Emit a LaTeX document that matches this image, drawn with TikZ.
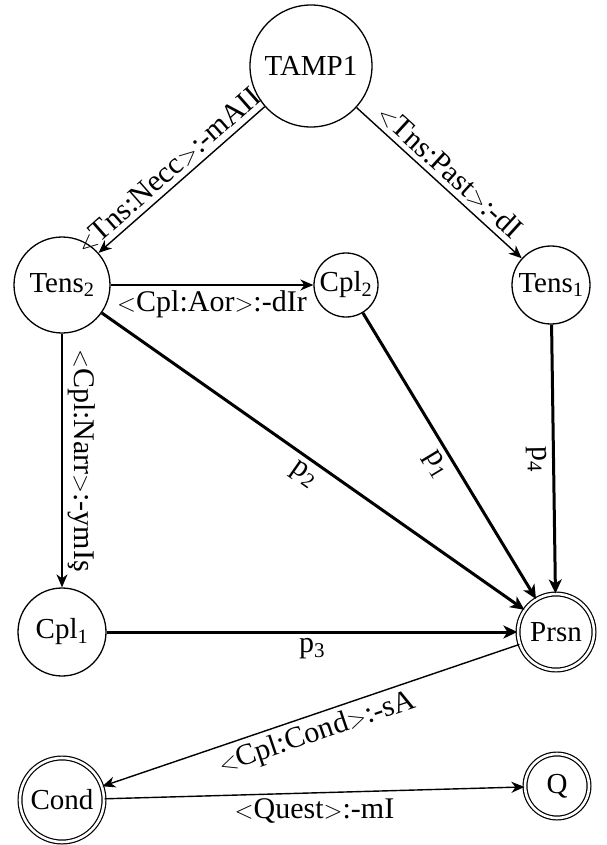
\documentclass[tikz,border=0pt]{standalone}
\usepackage{fontspec}
\setmainfont{Liberation Serif}
\usetikzlibrary{arrows.meta}
\begin{document}
\begin{tikzpicture}[x=1pt,y=-1pt,
  font=\fontsize{30}{35}\selectfont,
  st/.style={draw, circle, line width=1.3pt, inner sep=0pt, font=\fontsize{29}{34}\selectfont},
  acc/.style={st, double, double distance=2.6pt, line width=1.2pt},
  thin/.style={line width=1.4pt, -{Stealth[length=13pt,width=11pt,inset=4pt]}},
  thick/.style={line width=3pt, -{Stealth[length=14pt,width=13pt,inset=4pt]}},
  lab/.style={inner sep=5pt}]
\useasboundingbox (0,0) rectangle (606,845);
\node[st, minimum size=122pt] (tamp) at (311,66) {TAMP1};
\node[st, minimum size=96pt] (tens2) at (62,285) {Tens\textsubscript{2}};
\node[st, minimum size=64pt] (cpl2) at (346,285) {Cpl\textsubscript{2}};
\node[st, minimum size=78pt] (tens1) at (551,285) {Tens\textsubscript{1}};
\node[st, minimum size=88pt] (cpl1) at (62,632) {Cpl\textsubscript{1}};
\node[acc, minimum size=76pt] (prsn) at (556,632) {Prsn};
\node[acc, minimum size=84pt] (cond) at (62,800) {Cond};
\node[acc, minimum size=64pt] (q) at (557,786) {Q};

\draw[thin] (tamp) -- node[lab, sloped, above, pos=0.52] {$<$Tns:Necc$>$:-mAII} (tens2);
\draw[thin] (tamp) -- node[lab, sloped, above] {$<$Tns:Past$>$:-dI} (tens1);
\draw[thin] (tens2) -- node[lab, below] {$<$Cpl:Aor$>$:-dIr} (cpl2);
\draw[thin] (tens2) -- node[lab, sloped, above] {$<$Cpl:Narr$>$:-ymIş} (cpl1);
\draw[thick] (tens2) -- node[lab, sloped, below, pos=0.5] {p\textsubscript{2}} (prsn);
\draw[thick] (cpl2) -- node[lab, sloped, below, pos=0.5] {p\textsubscript{1}} (prsn);
\draw[thick] (tens1) -- node[lab, sloped, below, pos=0.5] {p\textsubscript{4}} (prsn);
\draw[thick] (cpl1) -- node[lab, below] {p\textsubscript{3}} (prsn);
\draw[thin] (prsn) -- node[lab, sloped, below] {$<$Cpl:Cond$>$:-sA} (cond);
\draw[thin] (cond) -- node[lab, below] {$<$Quest$>$:-mI} (q);
\end{tikzpicture}
\end{document}
